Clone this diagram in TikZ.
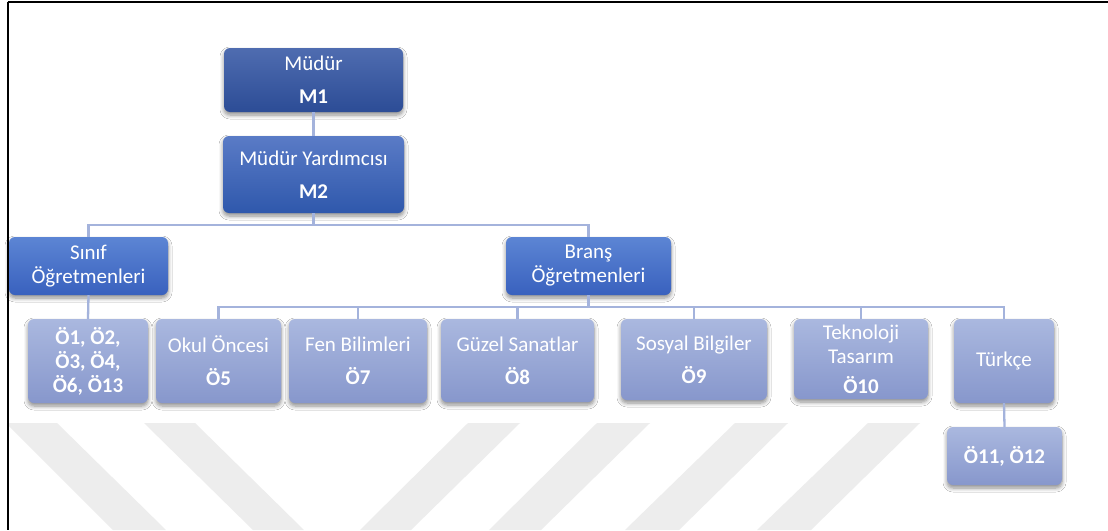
\documentclass[tikz,border=0pt]{standalone}
\usepackage{fontspec}
\setmainfont{Carlito}
\usetikzlibrary{shadows.blur}

\definecolor{headtop}{HTML}{4F6CB0}
\definecolor{headbot}{HTML}{2C4C96}
\definecolor{deputytop}{HTML}{5A7BC6}
\definecolor{deputybot}{HTML}{2F58AC}
\definecolor{grouptop}{HTML}{5C85D4}
\definecolor{groupbot}{HTML}{3961BE}
\definecolor{leaftop}{HTML}{AAB8DF}
\definecolor{leafbot}{HTML}{8797CC}
\definecolor{linkc}{HTML}{A4B3DC}
\definecolor{stripec}{HTML}{EDEDED}

\tikzset{
  box/.style={rectangle, rounded corners=6pt, text=white, align=center,
    inner sep=0pt, font=\fontsize{21}{24}\selectfont,
    blur shadow={shadow xshift=0pt, shadow yshift=-3pt,
      shadow blur steps=6, shadow blur radius=4pt, shadow opacity=45}},
  headbox/.style={box, top color=headtop, bottom color=headbot},
  deputybox/.style={box, top color=deputytop, bottom color=deputybot},
  groupbox/.style={box, top color=grouptop, bottom color=groupbot},
  leafbox/.style={box, top color=leaftop, bottom color=leafbot},
  link/.style={draw=linkc, line width=2.3pt},
  stripe/.style={fill=stripec, draw=none},
}

\begin{document}
\begin{tikzpicture}[x=1pt, y=-1pt]
  \useasboundingbox (0,0) rectangle (1108,530);
  \fill[white] (0,0) rectangle (1108,530);

  % faint diagonal background stripes
  \begin{scope}
    \clip (9,423) rectangle (1108,530);
    \fill[stripe] (6,423) -- (57,423) -- (166,530) -- (113,530) -- cycle;
    \fill[stripe] (144,423) -- (195,423) -- (304,530) -- (253,530) -- cycle;
    \fill[stripe] (468,423) -- (520,423) -- (411,530) -- (360,530) -- cycle;
    \fill[stripe] (597,423) -- (650,423) -- (541,530) -- (489,530) -- cycle;
    \fill[stripe] (735,423) -- (788,423) -- (679,530) -- (625,530) -- cycle;
    \fill[stripe] (868,423) -- (920,423) -- (811,530) -- (757,530) -- cycle;
  \end{scope}

  % frame lines
  \draw[black, line width=2pt] (7.5,1.5) -- (1108,1.5);
  \draw[black, line width=2pt] (7.5,1.5) -- (7.5,530);

  % bus junctions
  \coordinate (busA) at (313.5,225);
  \coordinate (busB) at (588.5,307);

  % boxes
  \node[headbox, minimum width=179pt, minimum height=64pt] (m1) at (313.5,80)
    {Müdür\\[9pt]\textbf{M1}};
  \node[deputybox, minimum width=181pt, minimum height=77pt] (m2) at (313.5,174.5)
    {Müdür Yardımcısı\\[9pt]\textbf{M2}};
  \node[groupbox, minimum width=159pt, minimum height=58pt] (sinif) at (88.5,266)
    {Sınıf\\Öğretmenleri};
  \node[groupbox, minimum width=165pt, minimum height=58pt] (brans) at (588.5,266)
    {Branş\\Öğretmenleri};

  \node[leafbox, minimum width=120pt, minimum height=84pt] (o1) at (88,361)
    {\textbf{Ö1, Ö2,}\\\textbf{Ö3, Ö4,}\\\textbf{Ö6, Ö13}};
  \node[leafbox, minimum width=125pt, minimum height=84pt] (okul) at (218.5,361)
    {Okul Öncesi\\[9pt]\textbf{Ö5}};
  \node[leafbox, minimum width=138pt, minimum height=84pt] (fen) at (358,361)
    {Fen Bilimleri\\[9pt]\textbf{Ö7}};
  \node[leafbox, minimum width=153pt, minimum height=83pt] (guzel) at (517.5,360.5)
    {Güzel Sanatlar\\[9pt]\textbf{Ö8}};
  \node[leafbox, minimum width=146pt, minimum height=81pt] (sosyal) at (694,359.5)
    {Sosyal Bilgiler\\[9pt]\textbf{Ö9}};
  \node[leafbox, minimum width=134pt, minimum height=80pt] (tekno) at (861,359)
    {Teknoloji\\Tasarım\\[6pt]\textbf{Ö10}};
  \node[leafbox, minimum width=100pt, minimum height=84pt] (turkce) at (1004,361)
    {Türkçe};
  \node[leafbox, minimum width=115pt, minimum height=58pt] (o11) at (1004.5,456)
    {\textbf{Ö11, Ö12}};

  % connectors
  \draw[link] (m1.south) -- (m2.north);
  \draw[link] (m2.south) -- (busA);
  \draw[link] (busA) -| (sinif.north);
  \draw[link] (busA) -| (brans.north);
  \draw[link] (sinif.south) -- (o1.north);
  \draw[link] (brans.south) -- (busB);
  \draw[link] (busB) -| (okul.north);
  \draw[link] (busB) -| (fen.north);
  \draw[link] (busB) -| (guzel.north);
  \draw[link] (busB) -| (sosyal.north);
  \draw[link] (busB) -| (tekno.north);
  \draw[link] (busB) -| (turkce.north);
  \draw[link] (turkce.south) -- (o11.north);
\end{tikzpicture}
\end{document}
